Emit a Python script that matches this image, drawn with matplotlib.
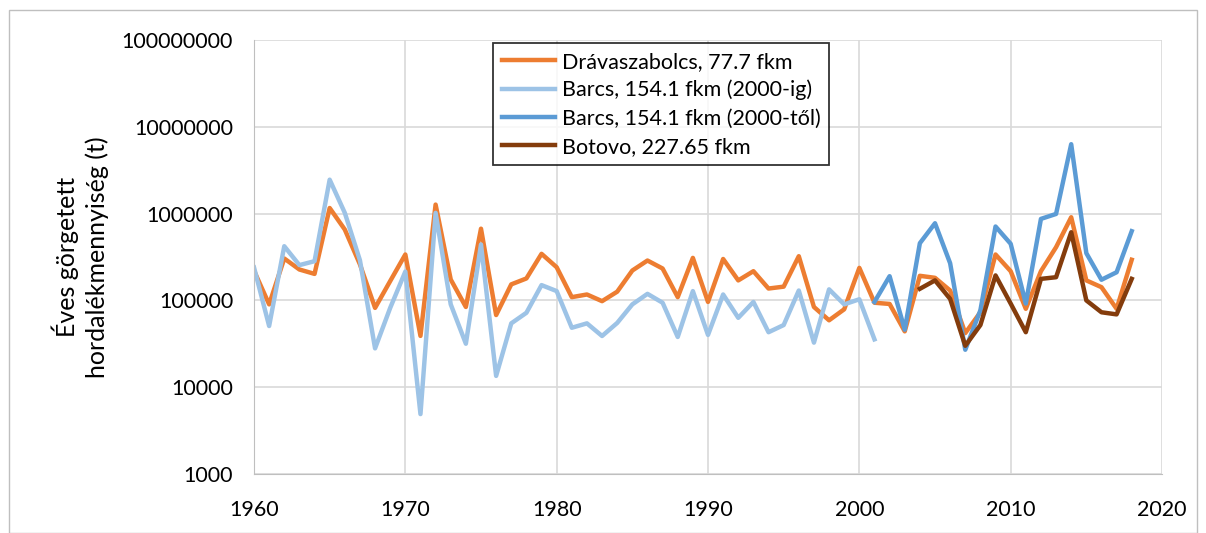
import matplotlib
matplotlib.use("Agg")
import matplotlib.pyplot as plt
from matplotlib.patches import Rectangle

# évek
years_drava = list(range(1960, 2019))
years_barcs_old = list(range(1960, 2002))
years_barcs_new = list(range(2001, 2019))
years_botovo = list(range(2004, 2019))

# Drávaszabolcs, 77.7 fkm
drava = [220000, 90000, 304000, 227000, 202000, 1160000, 655000, 260000, 82000, 167000,
         338000, 39000, 1270000, 174000, 84000, 670000, 67800, 153000, 179000, 344000,
         241000, 109000, 117000, 98000, 126000, 221000, 288000, 233000, 109000, 309000,
         96000, 300000, 170000, 217000, 137000, 144000, 323000, 84000, 59000, 79000,
         237000, 94000, 91000, 44000, 192000, 182000, 130000, 42000, 73000, 338000,
         217000, 80000, 217000, 410000, 908000, 170000, 142000, 80000, 294000]

# Barcs, 154.1 fkm (2000-ig)
barcs_old = [240000, 50700, 421000, 255000, 283000, 2460000, 1020000, 290000, 28000, 82000,
             215000, 4900, 1020000, 90000, 31700, 441000, 13500, 54400, 72000, 150000,
             128000, 48400, 54400, 38900, 55000, 90000, 119000, 94000, 37900, 128000,
             40000, 117000, 63000, 96000, 43000, 52000, 130000, 32600, 134000, 90000,
             103000, 35600]

# Barcs, 154.1 fkm (2000-től)
barcs_new = [96000, 190000, 46000, 456000, 774000, 268000, 27000, 77000, 710000,
             449000, 92000, 869000, 991000, 6300000, 350000, 173000, 211000, 627000]

# Botovo, 227.65 fkm
botovo = [136000, 170000, 104000, 30000, 52000, 194000, 92000, 43000, 177000,
          185000, 610000, 100000, 73000, 69000, 177000]

y_ticks = [1000, 10000, 100000, 1000000, 10000000, 100000000]
x_ticks = [1960, 1970, 1980, 1990, 2000, 2010, 2020]

plt.rcParams['font.family'] = ['Lato', 'DejaVu Sans']

fig = plt.figure(figsize=(12.06, 5.33), dpi=100)
fig.patches.append(Rectangle((9 / 1206, 0.0), 1188 / 1206, 523 / 533, transform=fig.transFigure,
                             fill=False, edgecolor='#BFBFBF', linewidth=1.0))

ax = fig.add_axes([254 / 1206, 1 - 474 / 533, 908 / 1206, 434 / 533])

ax.plot(years_drava, drava, color='#ED7D31', lw=3.2, label='Drávaszabolcs, 77.7 fkm')
ax.plot(years_barcs_old, barcs_old, color='#9DC3E6', lw=3.2, label='Barcs, 154.1 fkm (2000-ig)')
ax.plot(years_barcs_new, barcs_new, color='#5B9BD5', lw=3.2, label='Barcs, 154.1 fkm (2000-től)')
ax.plot(years_botovo, botovo, color='#843C0C', lw=3.2, label='Botovo, 227.65 fkm')

ax.set_yscale('log')
ax.set_ylim(1000, 100000000)
ax.set_xlim(1960, 2020)
ax.set_yticks(y_ticks)
ax.set_yticklabels([str(v) for v in y_ticks])
ax.minorticks_off()
ax.set_xticks(x_ticks)
ax.tick_params(length=0, labelsize=15.5)
ax.tick_params(axis='y', pad=15)
ax.tick_params(axis='x', pad=19)
ax.grid(True, color='#D9D9D9', linewidth=1.2)
ax.set_axisbelow(True)
for s in ['top', 'right']:
    ax.spines[s].set_visible(False)
ax.spines['left'].set_color('#BFBFBF')
ax.spines['bottom'].set_color('#BFBFBF')

ax.set_ylabel('Éves görgetett\nhordalékmennyiség (t)', fontsize=18, labelpad=9,
              linespacing=1.35)

leg = ax.legend(loc='upper left', bbox_to_anchor=(493 / 1206, 1 - 43 / 533),
                bbox_transform=fig.transFigure, fontsize=15.5, frameon=True, fancybox=False,
                edgecolor='black', borderaxespad=0, handlelength=2.5, handletextpad=0.3,
                labelspacing=0.38, borderpad=0.4)
leg.get_frame().set_linewidth(1.3)

plt.savefig('out.png', dpi=100)
